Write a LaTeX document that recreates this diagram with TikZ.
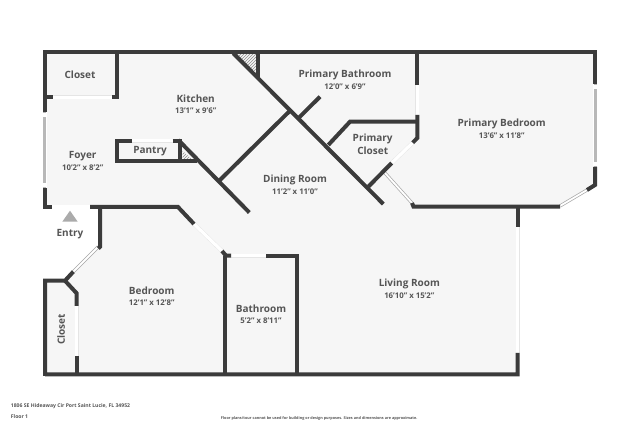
\documentclass[tikz,border=0pt]{standalone}
\usepackage{fontspec}
\setmainfont{Open Sans}
\usetikzlibrary{patterns}
\definecolor{wallgray}{HTML}{3B3B3B}
\definecolor{floorgray}{HTML}{F6F6F6}
\definecolor{textgray}{HTML}{555555}
\tikzset{
  wall/.style={line width=4pt,wallgray,line join=miter},
  door/.style={line width=3.2pt,draw=white},
  doorline/.style={line width=4pt,draw=black!10},
  pane/.style={line width=.7pt,draw=black!35,double=white,double distance=1.8pt},
  glassedge/.style={line width=4.4pt,draw=white},
  glass/.style={line width=3pt,draw=black!28},
  glassend/.style={line width=3.4pt,draw=white},
  room/.style={font=\bfseries\fontsize{10}{11}\selectfont,text=textgray,inner sep=0pt},
  size/.style={font=\bfseries\fontsize{7.8}{9}\selectfont,text=textgray,inner sep=0pt},
  foot/.style={font=\bfseries\fontsize{5.1}{6}\selectfont,text=textgray,inner sep=0pt,anchor=west}
}
\begin{document}
\begin{tikzpicture}[x=1pt,y=-1pt]
  \useasboundingbox (0,0) rectangle (640,427);
  % floor
  \fill[floorgray] (45,52)--(595,52)--(595,185)--(560,206)--(517.7,206)--(517.7,374)
    --(45,374)--(45,281)--(65,281)--(100,246.7)--(100,207)--(45,207)--cycle;
  % doors and windows
  \draw[doorline] (52,97.3)--(112,97.3);
  \draw[door] (52,97.3)--(112,97.3);
  \draw[doorline] (131,140.7)--(173,140.7);
  \draw[door] (131,140.7)--(173,140.7);
  \draw[doorline] (52,207)--(90,207);
  \draw[door] (52,207)--(90,207);
  \draw[doorline] (193.5,223.5)--(222.5,251.5);
  \draw[door] (193.5,223.5)--(222.5,251.5);
  \draw[doorline] (231,255.7)--(266,255.7);
  \draw[door] (231,255.7)--(266,255.7);
  \draw[doorline] (417.3,85)--(417.3,115);
  \draw[door] (417.3,85)--(417.3,115);
  \draw[doorline] (412.7,142.7)--(391.7,163);
  \draw[door] (412.7,142.7)--(391.7,163);
  \draw[doorline] (517.7,226)--(517.7,353);
  \draw[door] (517.7,226)--(517.7,353);
  \draw[doorline] (76.7,306)--(76.7,356);
  \draw[door] (76.7,306)--(76.7,356);
  \draw[glassedge] (44.7,112)--(44.7,188);
  \draw[glass] (44.7,112)--(44.7,188);
  \draw[glassend] (44.7,113)--(44.7,117) (44.7,183)--(44.7,187);
  \draw[glassedge] (595,84)--(595,167);
  \draw[glass] (595,84)--(595,167);
  \draw[glassend] (595,85)--(595,89) (595,162)--(595,166);
  \draw[pane] (73.3,271.7)--(98.3,246.7);
  \draw[pane] (560,206)--(587,190);
  \draw[pane] (385,173)--(412,203);
  % hatched corners
  \fill[pattern=north east lines,pattern color=black!45] (235,54)--(256,54)--(256,73)--cycle;
  \fill[pattern=north east lines,pattern color=black!45] (182.7,151)--(182.7,159.3)--(191.7,159.3)--cycle;
  % walls
  \draw[wall] (44.7,112)--(44.7,52)--(595,52)--(595,84);
  \draw[wall] (44.7,188)--(44.7,207)--(52,207);
  \draw[wall] (595,167)--(595,185)--(587,190);
  \draw[wall] (44.7,97.3)--(52.7,97.3);
  \draw[wall] (112,97.3)--(117,97.3)--(117,52);
  \draw[wall] (90,207)--(178,207)--(194,224);
  \draw[wall] (100,207)--(100,246.7)--(98.3,248.4);
  \draw[wall] (222,251)--(226,255.7)--(231,255.7);
  \draw[wall] (225.3,255.7)--(225.3,374.3);
  \draw[wall] (266,255.7)--(297,255.7)--(297,374.3);
  \draw[wall] (73.3,271.7)--(65,280.7)--(45,280.7)--(45,376)
    (45,374.3)--(519.7,374.3) (517.7,376.3)--(517.7,353);
  \draw[wall] (65,280.7)--(76.7,293.3)--(76.7,306);
  \draw[wall] (76.7,356)--(76.7,374.3);
  \draw[wall] (131.7,140.7)--(117.3,140.7)--(117.3,161.3)--(196.7,161.3);
  \draw[wall] (172.7,140.7)--(180,140.7)--(180,161.3);
  \draw[wall] (233.3,53.3)--(383.3,204);
  \draw[wall] (257.7,52)--(257.7,78.3);
  \draw[wall] (178.3,140)--(249.3,212.5);
  \draw[wall] (290,110.7)--(219,181);
  \draw[wall] (298.3,118.3)--(320,96.7);
  \draw[wall] (328.3,145)--(350,121.7)--(417.3,121.7);
  \draw[wall] (417.3,52)--(417.3,85);
  \draw[wall] (417.3,115)--(417.3,138)--(412.7,142.7);
  \draw[wall] (391.7,163)--(368.3,186.7);
  \draw[wall] (412,203)--(413.5,206.7)--(560,206.7);
  \draw[wall] (517.7,206.7)--(517.7,226.7);
  % entry marker
  \fill[black!33] (62.3,221.7)--(77.7,221.7)--(70,210.7)--cycle;
  % labels
  \node[room] (closetA) at (80,74.3) {Closet};
  \node[room] (kitchen) at (195.7,99) {Kitchen};
  \node[size] (kitchenS) at (195.7,110.7) {13'1" x 9'6"};
  \node[room] (foyer) at (82.7,156) {Foyer};
  \node[size] (foyerS) at (82.7,167.7) {10'2" x 8'2"};
  \node[room] (pantry) at (150,150.7) {Pantry};
  \node[room] (pbath) at (345,75.3) {Primary Bathroom};
  \node[size] (pbathS) at (345,87) {12'0" x 6'9"};
  \node[room] (pclosetA) at (372.7,138.7) {Primary};
  \node[room] (pclosetB) at (372.7,151) {Closet};
  \node[room] (dining) at (295,179.7) {Dining Room};
  \node[size] (diningS) at (295,191.7) {11'2" x 11'0"};
  \node[room] (pbed) at (501.7,124.3) {Primary Bedroom};
  \node[size] (pbedS) at (501.7,136) {13'6" x 11'8"};
  \node[room] (entry) at (70,234) {Entry};
  \node[room] (bed) at (151.7,290.7) {Bedroom};
  \node[size] (bedS) at (151.7,302.3) {12'1" x 12'8"};
  \node[room,rotate=90] (closetB) at (61,329.3) {Closet};
  \node[room] (bath) at (261,309) {Bathroom};
  \node[size] (bathS) at (261,320.7) {5'2" x 8'11"};
  \node[room] (living) at (409.3,284.3) {Living Room};
  \node[size] (livingS) at (409.3,296) {16'10" x 15'2"};
  % footer
  \node[foot] (addr) at (10.7,405.7) {1806 SE Hideaway Cir Port Saint Lucie, FL 34952};
  \node[foot] (floor) at (10.7,416.7) {Floor 1};
  \node[foot,font=\bfseries\fontsize{3.8}{4}\selectfont] (note) at (220.7,418.7) {Floor plans/tour cannot be used for building or design purposes. Sizes and dimensions are approximate.};
\end{tikzpicture}
\end{document}
